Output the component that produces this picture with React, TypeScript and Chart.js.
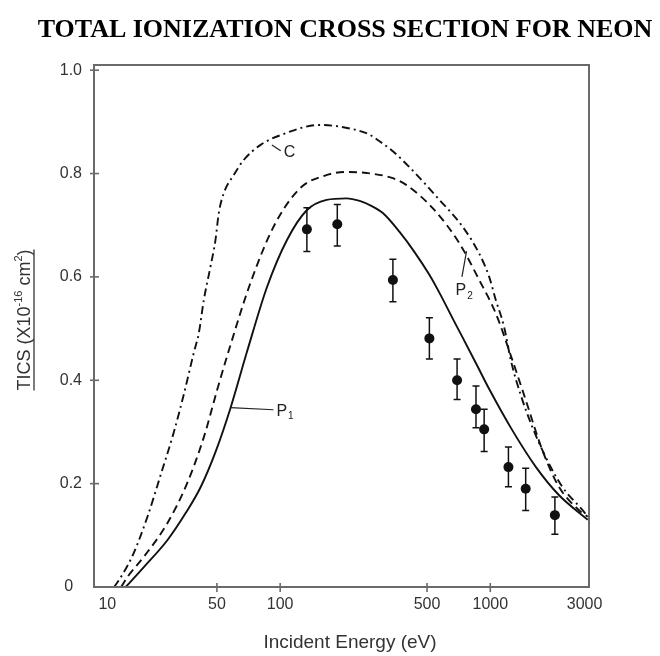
import React, { useEffect, useRef } from "react";
import { Chart, registerables } from "chart.js";

Chart.register(...registerables);

const chartTitle = "TOTAL IONIZATION CROSS SECTION FOR NEON";
const xAxisTitle = "Incident Energy (eV)";
const yAxisTitleParts = [
  { text: "TICS (X10", sup: false },
  { text: "-16", sup: true },
  { text: " cm", sup: false },
  { text: "2", sup: true },
  { text: ")", sup: false },
];

const xMin = 13;
const xMax = 2950;
const xTickValues = [13, 50, 100, 500, 1000, 2950];
const xTickLabels = ["      10", "50", "100", "500", "1000", "3000  "];
const xTickMarks = [50, 100, 500, 1000];
const yMin = 0;
const yMax = 1.01;
const yTickValues = [0, 0.2, 0.4, 0.6, 0.8, 1.0];
const yTickLabels = ["0  ", "0.2", "0.4", "0.6", "0.8", "1.0"];
const yTickMarks = [0.2, 0.4, 0.6, 0.8, 1.0];

// P1 (solid)
const p1Energy = [18.4, 22.5, 29.1, 35.5, 41.8, 49.2, 58, 69.5, 86.5, 107.6, 133.8, 166.4, 207, 239, 273, 309, 370, 436, 513, 573, 675, 736, 867, 988, 1270, 1650, 2120, 2910];
const p1Tics = [0, 0.039, 0.091, 0.143, 0.193, 0.261, 0.346, 0.455, 0.58, 0.671, 0.729, 0.749, 0.752, 0.747, 0.737, 0.723, 0.687, 0.648, 0.604, 0.569, 0.513, 0.484, 0.428, 0.383, 0.304, 0.232, 0.178, 0.13];

// P2 (dashed)
const p2Energy = [17.5, 18.8, 22.5, 29, 36.1, 43.4, 50.1, 57, 72, 93, 124, 166, 207, 258, 344, 398, 532, 713, 886, 1063, 1274, 1474, 1768, 2120, 2637, 2910];
const p2Tics = [0, 0.02, 0.059, 0.123, 0.201, 0.291, 0.381, 0.458, 0.587, 0.697, 0.771, 0.797, 0.803, 0.801, 0.791, 0.778, 0.733, 0.665, 0.594, 0.529, 0.439, 0.362, 0.265, 0.194, 0.149, 0.136];

// C (dash-dot)
const cEnergy = [16.2, 17.1, 19.8, 23.4, 27, 31.2, 34.8, 38.9, 41, 43.3, 46.6, 49.2, 51, 53.9, 60.1, 67, 80.4, 100, 155, 197, 264, 298, 344, 413, 573, 739, 886, 988, 1063, 1164, 1252, 1400, 1584, 1832, 2200, 2786, 2910];
const cTics = [0, 0.0135, 0.06, 0.137, 0.217, 0.3, 0.373, 0.455, 0.491, 0.555, 0.62, 0.671, 0.723, 0.762, 0.797, 0.826, 0.855, 0.874, 0.894, 0.89, 0.876, 0.862, 0.843, 0.812, 0.749, 0.697, 0.645, 0.6, 0.555, 0.503, 0.439, 0.37, 0.31, 0.252, 0.194, 0.146, 0.136];

// Experimental points with error bars
const expEnergy = [134, 187, 344, 513, 695, 855, 935, 1220, 1474, 2030];
const expTics = [0.692, 0.702, 0.594, 0.481, 0.4, 0.344, 0.305, 0.232, 0.19, 0.139];
const expErrLow = [0.649, 0.66, 0.552, 0.441, 0.363, 0.308, 0.262, 0.194, 0.148, 0.102];
const expErrHigh = [0.734, 0.74, 0.634, 0.521, 0.441, 0.389, 0.344, 0.271, 0.23, 0.174];

// Curve labels with leader lines (data coordinates)
const labelMain = ["C", "P", "P"];
const labelSub = ["", "1", "2"];
const leaderStartE = [91.3, 58, 771];
const leaderStartV = [0.855, 0.347, 0.65];
const leaderEndE = [100.6, 92.9, 733];
const leaderEndV = [0.844, 0.343, 0.6];
const labelPlacement = ["right", "right", "below"];

const SANS = "'Liberation Sans', Arial, sans-serif";
const SERIF = "'Liberation Serif', 'Times New Roman', serif";

const toPts = (xs: number[], ys: number[]) => xs.map((x, i) => ({ x, y: ys[i] }));

const decorPlugin = {
  id: "decor",
  beforeDatasetsDraw(chart: any) {
    const { ctx } = chart;
    const xs = chart.scales.x;
    const ys = chart.scales.y;
    ctx.save();
    ctx.strokeStyle = "#111";
    ctx.lineWidth = 1.5;
    expEnergy.forEach((e, i) => {
      const px = xs.getPixelForValue(e);
      const t = ys.getPixelForValue(expErrHigh[i]);
      const b = ys.getPixelForValue(expErrLow[i]);
      ctx.beginPath();
      ctx.moveTo(px, t);
      ctx.lineTo(px, b);
      ctx.moveTo(px - 3.5, t);
      ctx.lineTo(px + 3.5, t);
      ctx.moveTo(px - 3.5, b);
      ctx.lineTo(px + 3.5, b);
      ctx.stroke();
    });
    ctx.restore();
  },
  afterDraw(chart: any) {
    const { ctx, chartArea } = chart;
    const xs = chart.scales.x;
    const ys = chart.scales.y;
    const { left, right, top, bottom } = chartArea;
    ctx.save();
    // frame
    ctx.strokeStyle = "#6a6a6a";
    ctx.lineWidth = 2;
    ctx.strokeRect(left, top, right - left, bottom - top);
    // tick marks crossing axes
    ctx.lineWidth = 1.6;
    xTickMarks.forEach((v) => {
      const px = xs.getPixelForValue(v);
      ctx.beginPath();
      ctx.moveTo(px, bottom - 4);
      ctx.lineTo(px, bottom + 5);
      ctx.stroke();
    });
    yTickMarks.forEach((v) => {
      const py = ys.getPixelForValue(v);
      ctx.beginPath();
      ctx.moveTo(left - 4, py);
      ctx.lineTo(left + 5, py);
      ctx.stroke();
    });

    // chart title
    ctx.fillStyle = "#000";
    ctx.font = `bold 26px ${SERIF}`;
    ctx.textAlign = "center";
    ctx.textBaseline = "middle";
    ctx.fillText(chartTitle, 345, 30);

    // x title
    ctx.fillStyle = "#333";
    ctx.font = `19px ${SANS}`;
    ctx.fillText(xAxisTitle, 350, 643);

    // y title (rotated, with superscripts, underlined)
    ctx.save();
    ctx.translate(23, (top + bottom) / 2 - 6);
    ctx.rotate(-Math.PI / 2);
    const mainFont = `18px ${SANS}`;
    const supFont = `11px ${SANS}`;
    let total = 0;
    yAxisTitleParts.forEach((p) => {
      ctx.font = p.sup ? supFont : mainFont;
      total += ctx.measureText(p.text).width;
    });
    let cx = -total / 2;
    ctx.textAlign = "left";
    ctx.textBaseline = "alphabetic";
    yAxisTitleParts.forEach((p) => {
      ctx.font = p.sup ? supFont : mainFont;
      ctx.fillText(p.text, cx, p.sup ? -1 : 7);
      cx += ctx.measureText(p.text).width;
    });
    ctx.strokeStyle = "#333";
    ctx.lineWidth = 1.3;
    ctx.beginPath();
    ctx.moveTo(-total / 2, 11);
    ctx.lineTo(total / 2, 11);
    ctx.stroke();
    ctx.restore();

    // curve labels
    ctx.strokeStyle = "#222";
    ctx.fillStyle = "#222";
    ctx.lineWidth = 1.2;
    labelMain.forEach((m, i) => {
      const x1 = xs.getPixelForValue(leaderStartE[i]);
      const y1 = ys.getPixelForValue(leaderStartV[i]);
      const x2 = xs.getPixelForValue(leaderEndE[i]);
      const y2 = ys.getPixelForValue(leaderEndV[i]);
      ctx.beginPath();
      ctx.moveTo(x1, y1);
      ctx.lineTo(x2, y2);
      ctx.stroke();
      ctx.font = `16px ${SANS}`;
      ctx.textBaseline = "middle";
      ctx.textAlign = "left";
      let tx = x2 + 3;
      let ty = y2 + 2;
      const w = ctx.measureText(m).width;
      if (labelPlacement[i] === "below") {
        tx = x2 - w / 2 - 1;
        ty = y2 + 14;
      }
      ctx.fillText(m, tx, ty);
      if (labelSub[i]) {
        ctx.font = `10px ${SANS}`;
        ctx.fillText(labelSub[i], tx + w + 1, ty + 5);
      }
    });
    ctx.restore();
  },
};

export default function App() {
  const ref = useRef<HTMLCanvasElement>(null);
  useEffect(() => {
    const canvas = ref.current;
    if (!canvas) return;
    const lineColor = "#111";
    const chart = new Chart(canvas, {
      type: "line",
      data: {
        datasets: [
          {
            label: "P1",
            data: toPts(p1Energy, p1Tics),
            borderColor: lineColor,
            borderWidth: 1.9,
            pointRadius: 0,
            cubicInterpolationMode: "monotone",
            fill: false,
          },
          {
            label: "P2",
            data: toPts(p2Energy, p2Tics),
            borderColor: lineColor,
            borderWidth: 1.9,
            borderDash: [8, 5],
            pointRadius: 0,
            cubicInterpolationMode: "monotone",
            fill: false,
          },
          {
            label: "C",
            data: toPts(cEnergy, cTics),
            borderColor: lineColor,
            borderWidth: 1.9,
            borderDash: [8, 4, 2, 4],
            pointRadius: 0,
            cubicInterpolationMode: "monotone",
            fill: false,
          },
          {
            type: "scatter",
            label: "Experiment",
            data: toPts(expEnergy, expTics),
            showLine: false,
            pointRadius: 5,
            pointBackgroundColor: "#111",
            pointBorderColor: "#111",
            pointBorderWidth: 0,
          } as any,
        ],
      },
      options: {
        responsive: false,
        animation: false,
        events: [],
        layout: { padding: { top: 65, right: 71, left: 0, bottom: 0 } },
        plugins: {
          legend: { display: false },
          title: { display: false },
          tooltip: { enabled: false },
        },
        scales: {
          x: {
            type: "logarithmic",
            min: xMin,
            max: xMax,
            afterFit: (s: any) => {
              s.height = 69;
            },
            afterBuildTicks: (s: any) => {
              s.ticks = xTickValues.map((v) => ({ value: v }));
            },
            grid: { display: false, drawTicks: false },
            border: { display: false },
            ticks: {
              autoSkip: false,
              maxRotation: 0,
              minRotation: 0,
              padding: 8,
              color: "#333",
              font: { family: SANS, size: 16 },
              callback: (_v: any, i: number) => xTickLabels[i],
            },
          },
          y: {
            type: "linear",
            min: yMin,
            max: yMax,
            afterFit: (s: any) => {
              s.width = 94;
            },
            afterBuildTicks: (s: any) => {
              s.ticks = yTickValues.map((v) => ({ value: v }));
            },
            grid: { display: false, drawTicks: false },
            border: { display: false },
            ticks: {
              padding: 12,
              color: "#333",
              font: { family: SANS, size: 16 },
              callback: (_v: any, i: number) => yTickLabels[i],
            },
          },
        },
      },
      plugins: [decorPlugin],
    } as any);
    return () => chart.destroy();
  }, []);
  return (
    <div style={{ position: "absolute", left: 0, top: 0, width: 660, height: 656, background: "#fff" }}>
      <canvas ref={ref} width={660} height={656} style={{ width: 660, height: 656, display: "block" }} />
    </div>
  );
}
